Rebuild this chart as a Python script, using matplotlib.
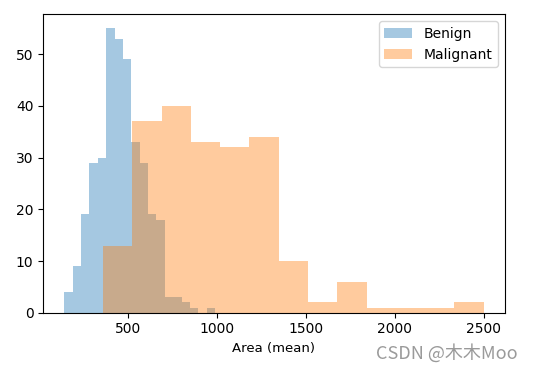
import numpy as np
import matplotlib
matplotlib.use("Agg")
import matplotlib.pyplot as plt

plt.rcParams['font.family'] = ['DejaVu Sans']

# Histogram data (counts)
benign_range = (143.5, 992.1)
benign_counts = [4, 9, 19, 29, 30, 55, 53, 49, 33, 29, 19, 18, 3, 3, 2, 1, 0, 1]
malignant_range = (361.6, 2501.0)
malignant_counts = [13, 37, 40, 33, 32, 34, 10, 2, 6, 1, 1, 1, 2]
labels = ["Benign", "Malignant"]
xlabel = "Area (mean)"
watermark = "CSDN @木木Moo"

fig = plt.figure(figsize=(5.33, 3.71), dpi=100)
ax = fig.add_axes([0.081, 0.157, 0.866, 0.805])

for rng, counts, lab, col in [(benign_range, benign_counts, labels[0], "C0"),
                              (malignant_range, malignant_counts, labels[1], "C1")]:
    edges = np.linspace(rng[0], rng[1], len(counts) + 1)
    centers = (edges[:-1] + edges[1:]) / 2
    ax.hist(centers, bins=edges, weights=counts, color=col, alpha=0.4, label=lab)

ax.set_xticks([500, 1000, 1500, 2000, 2500])
ax.set_yticks([0, 10, 20, 30, 40, 50])
ax.tick_params(labelsize=10)
ax.set_xlabel(xlabel, fontsize=9.5, labelpad=4)
ax.legend(loc="upper right", fontsize=10)

fig.text(0.972, 0.048, watermark, ha="right", va="center", fontsize=13,
         color="#9a9a9a", family=["Noto Sans CJK SC", "DejaVu Sans"],
         fontweight="light")

fig.savefig("out.png", dpi=100)
